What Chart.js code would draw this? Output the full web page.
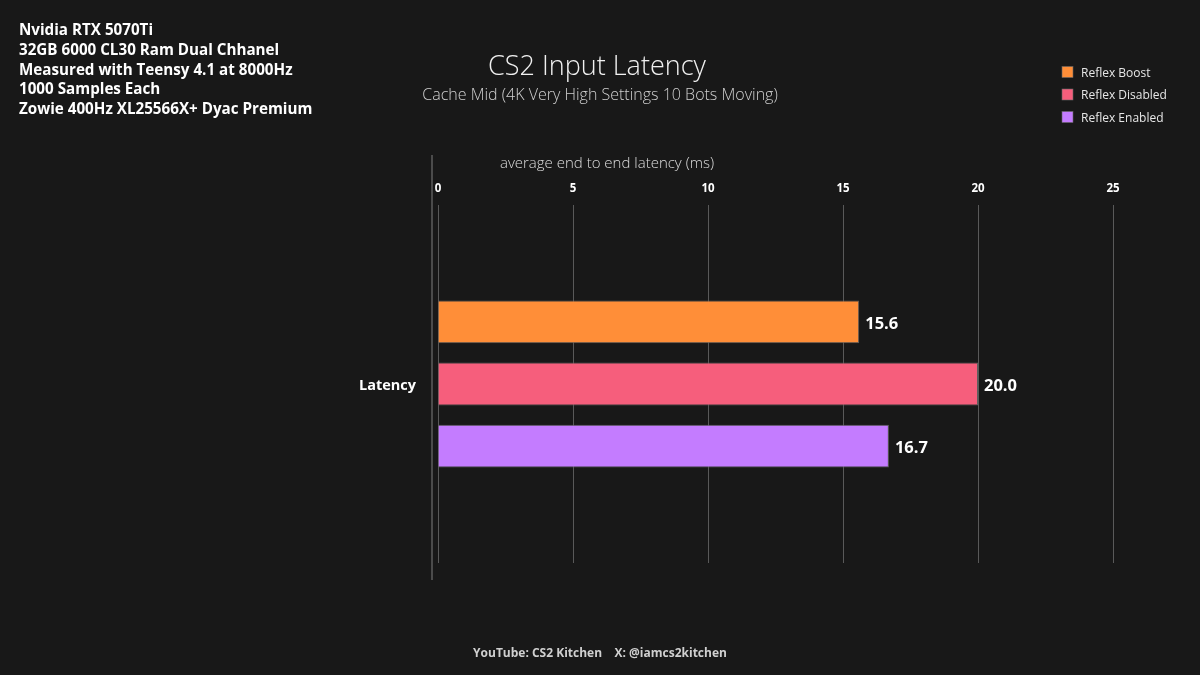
<!DOCTYPE html>
<html>
<head>
<meta charset="utf-8">
<script src="https://cdn.jsdelivr.net/npm/chart.js@4.4.1/dist/chart.umd.min.js"></script>
<style>
html,body{margin:0;padding:0;background:#181818;}
canvas{display:block;}
</style>
</head>
<body>
<canvas id="c" width="1200" height="675"></canvas>
<script>
const categories = ["Latency"];
const seriesNames = ["Reflex Boost", "Reflex Disabled", "Reflex Enabled"];
const seriesValues = [[15.6], [20.0], [16.7]];
const seriesColors = ["#FF8E38", "#F65E7C", "#C47CFF"];
const xTicks = [0, 5, 10, 15, 20, 25];
const titleText = "CS2 Input Latency";
const subtitleText = "Cache Mid (4K Very High Settings 10 Bots Moving)";
const axisTitle = "average end to end latency (ms)";
const infoLines = ["Nvidia RTX 5070Ti", "32GB 6000 CL30 Ram Dual Chhanel", "Measured with Teensy 4.1 at 8000Hz", "1000 Samples Each", "Zowie 400Hz XL25566X+ Dyac Premium"];
const footerText = "YouTube: CS2 Kitchen    X: @iamcs2kitchen";

const FONT = "'Open Sans', 'Noto Sans', sans-serif";

const decor = {
  id: 'decor',
  beforeDraw(chart) {
    const ctx = chart.ctx;
    ctx.save();
    ctx.fillStyle = '#181818';
    ctx.fillRect(0, 0, chart.width, chart.height);
    ctx.restore();
  },
  afterDraw(chart) {
    const ctx = chart.ctx;
    const ca = chart.chartArea;
    ctx.save();
    // extra axis line
    ctx.strokeStyle = '#5c5c5c';
    ctx.lineWidth = 1.5;
    ctx.beginPath();
    ctx.moveTo(ca.left - 6, ca.top - 50);
    ctx.lineTo(ca.left - 6, ca.bottom + 17);
    ctx.stroke();

    // info lines
    ctx.fillStyle = '#ffffff';
    ctx.font = "bold 15.2px " + FONT;
    ctx.textAlign = 'left';
    ctx.textBaseline = 'middle';
    infoLines.forEach((l, i) => ctx.fillText(l, 19, 31 + i * 19.6));

    // title
    ctx.textAlign = 'center';
    ctx.fillStyle = '#f0f0f0';
    ctx.font = "300 27px " + FONT;
    ctx.fillText(titleText, 597, 67);
    ctx.fillStyle = '#cfcfcf';
    ctx.font = "300 16px " + FONT;
    ctx.fillText(subtitleText, 600, 95.5);

    // axis title
    ctx.fillStyle = '#dcdcdc';
    ctx.font = "300 15px " + FONT;
    ctx.fillText(axisTitle, 607, 164);

    // footer
    ctx.fillStyle = '#d0d0d0';
    ctx.font = "bold 12px " + FONT;
    ctx.fillText(footerText, 600, 654);

    // legend
    ctx.textAlign = 'left';
    chart.data.datasets.forEach((ds, i) => {
      const y = 72 + i * 22.5;
      ctx.fillStyle = ds.backgroundColor;
      ctx.fillRect(1062, y - 5.5, 11, 11);
      ctx.strokeStyle = '#666';
      ctx.lineWidth = 0.6;
      ctx.strokeRect(1062, y - 5.5, 11, 11);
      ctx.fillStyle = '#e6e6e6';
      ctx.font = "12px " + FONT;
      ctx.fillText(ds.label, 1081, y + 1.5);
    });

    // value labels
    ctx.fillStyle = '#ffffff';
    ctx.font = "bold 16.5px " + FONT;
    chart.data.datasets.forEach((ds, i) => {
      const meta = chart.getDatasetMeta(i);
      meta.data.forEach((el, j) => {
        ctx.fillText(ds.data[j].toFixed(1), el.x + 6, el.y + 2);
      });
    });
    ctx.restore();
  }
};

new Chart(document.getElementById('c'), {
  type: 'bar',
  data: {
    labels: categories,
    datasets: seriesNames.map((n, i) => ({
      label: n,
      data: seriesValues[i],
      backgroundColor: seriesColors[i],
      borderColor: '#5e5e5e',
      borderWidth: 1,
      categoryPercentage: 0.52,
      barPercentage: 0.69
    }))
  },
  options: {
    indexAxis: 'y',
    responsive: false,
    animation: false,
    devicePixelRatio: 1,
    layout: { padding: { left: 0, right: 87, top: 175, bottom: 112 } },
    plugins: { legend: { display: false }, title: { display: false }, tooltip: { enabled: false } },
    scales: {
      x: {
        type: 'linear',
        position: 'top',
        min: 0,
        max: 25,
        afterFit(s) { s.height = 30; },
        afterBuildTicks(s) { s.ticks = xTicks.map(v => ({ value: v })); },
        border: { display: false },
        grid: { color: '#595959', lineWidth: 1, drawTicks: false },
        ticks: { color: '#ffffff', font: { family: FONT, size: 11.5, weight: 'bold' }, padding: 9 }
      },
      y: {
        afterFit(s) { s.width = 438; },
        border: { display: false },
        grid: { display: false, drawTicks: false },
        ticks: { color: '#ffffff', font: { family: FONT, size: 14.5, weight: 'bold' }, padding: 22, labelOffset: 2 }
      }
    }
  },
  plugins: [decor]
});
</script>
</body>
</html>
